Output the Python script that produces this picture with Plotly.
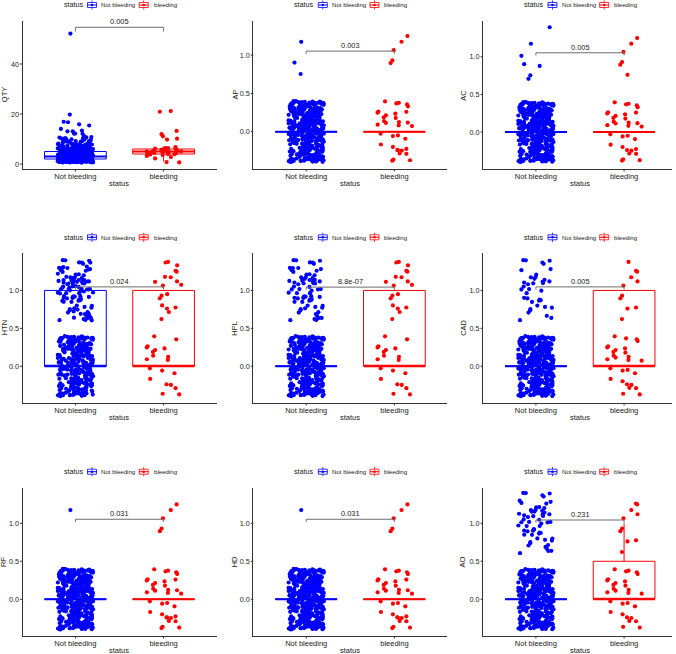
import numpy as np
import plotly.graph_objects as go

# ---------------- data ----------------
groups = ["Not bleeding", "bleeding"]
n_not_bleeding = 400
n_bleeding = 39

# QTY: integer values and how many patients have each value
qty_values = [1, 2, 3, 4, 5, 6, 7, 8, 9, 10, 11, 12, 13, 14, 15, 16, 17, 20, 21, 52]
qty_counts_not_bleeding = [70, 75, 65, 50, 41, 29, 22, 14, 9, 8, 4, 3, 3, 1, 1, 1, 2, 1, 0, 1]
qty_counts_bleeding = [2, 1, 2, 9, 10, 7, 1, 0, 0, 2, 1, 1, 1, 0, 0, 0, 0, 0, 2, 0]

# binary (0/1) variables: number of patients coded 1 in each group
binary_vars = ["AP", "AC", "HTN", "HPL", "CAD", "RF", "HD", "AO"]
ones_not_bleeding = [3, 7, 105, 72, 38, 1, 1, 58]
ones_bleeding = [5, 6, 19, 19, 11, 5, 5, 10]

panel_vars = ["QTY"] + binary_vars
p_values = ["0.005", "0.003", "0.005", "0.024", "8.8e-07", "0.005", "0.031", "0.031", "0.231"]

# ---------------- layout / style settings ----------------
W, H = 676, 654
col_x0 = [22.5, 253.3, 483.0]
col_x1 = [216.5, 447.0, 672.0]
row_top = [21.0, 253.3, 487.7]
row_bot = [169.0, 403.0, 636.0]
y_title_x = [4.2, 234.5, 462.7]
y_ranges = [[-2.0, 57.2], [-0.487, 1.445], [-0.49, 1.475],
            [-0.485, 1.49], [-0.485, 1.49], [-0.485, 1.49],
            [-0.483, 1.468], [-0.483, 1.468], [-0.483, 1.468]]
bracket_y = [54.7, 1.052, 1.053, 1.047, 1.044, 1.047, 1.053, 1.053, 1.043]
bracket_tip = [1.7, 0.035, 0.035, 0.035, 0.035, 0.035, 0.035, 0.035, 0.035]
colors = ["#0000FF", "#FF0000"]
TXT = "#1a1a1a"
AXC = "#333333"
FONT = "Liberation Sans, Arial, sans-serif"
BOX_W = 0.7
JIT_X, JIT_Y = 0.2, 0.4   # like position_jitter(width=0.2, height=0.4)
TICK_PX = 2.5


def px_x(px):
    return px / W


def px_y(py):
    return 1 - py / H


def jitter_unit(n, k):
    # deterministic display jitter (positions only, values unchanged)
    i = np.arange(n, dtype=float)
    v = np.sin(i * 12.9898 + k * 78.233 + 0.5) * 43758.5453
    return v - np.floor(v)


def group_values(var, g):
    if var == "QTY":
        counts = qty_counts_not_bleeding if g == 0 else qty_counts_bleeding
        return np.repeat(np.array(qty_values, dtype=float), counts)
    j = binary_vars.index(var)
    n = n_not_bleeding if g == 0 else n_bleeding
    ones = ones_not_bleeding[j] if g == 0 else ones_bleeding[j]
    return np.array([0.0] * (n - ones) + [1.0] * ones)


fig = go.Figure()
annotations = []
shapes = []

for p, var in enumerate(panel_vars):
    r, c = divmod(p, 3)
    ax = "" if p == 0 else str(p + 1)
    xref, yref = "x" + ax, "y" + ax
    x0, x1 = col_x0[c], col_x1[c]
    top, bot = row_top[r], row_bot[r]
    xr_end = 0.4 + (x1 - x0) / (194.0 / 2.2)

    for g in range(2):
        vals = group_values(var, g)
        q1, med, q3 = np.percentile(vals, [25, 50, 75])
        iqr = q3 - q1
        lo = vals[vals >= q1 - 1.5 * iqr].min()
        hi = vals[vals <= q3 + 1.5 * iqr].max()
        xpos = g + 1
        fig.add_trace(go.Box(
            x=[xpos], q1=[q1], median=[med], q3=[q3], lowerfence=[lo], upperfence=[hi],
            width=BOX_W, fillcolor="white", line=dict(color=colors[g], width=1),
            whiskerwidth=0, boxpoints=False, showlegend=False, hoverinfo="skip",
            xaxis=xref, yaxis=yref))
        fig.add_trace(go.Scatter(
            x=[xpos - BOX_W / 2, xpos + BOX_W / 2], y=[med, med], mode="lines",
            line=dict(color=colors[g], width=2), showlegend=False, hoverinfo="skip",
            xaxis=xref, yaxis=yref))
    for g in range(2):
        vals = group_values(var, g)
        n = len(vals)
        jx = (jitter_unit(n, 2 * g + 1) * 2 - 1) * JIT_X
        jy = (jitter_unit(n, 2 * g + 2) * 2 - 1) * JIT_Y
        fig.add_trace(go.Scatter(
            x=(g + 1) + jx, y=vals + jy, mode="markers",
            marker=dict(color=colors[g], size=4.2, line=dict(width=0)),
            name=groups[g], showlegend=False, xaxis=xref, yaxis=yref))

    b, t = bracket_y[p], bracket_tip[p]
    fig.add_trace(go.Scatter(
        x=[1, 1, 2, 2], y=[b - t, b, b, b - t], mode="lines",
        line=dict(color="#6e6e6e", width=1), showlegend=False, hoverinfo="skip",
        xaxis=xref, yaxis=yref))
    annotations.append(dict(x=1.5, y=b, xref=xref, yref=yref, text=p_values[p],
                            showarrow=False, yanchor="bottom", yshift=-1,
                            font=dict(family=FONT, size=7.4, color=TXT)))

    if var == "QTY":
        tv, tt = [0, 20, 40], ["0", "20", "40"]
    else:
        tv, tt = [0, 0.5, 1], ["0.0", "0.5", "1.0"]

    fig.layout["xaxis" + ax] = dict(
        domain=[px_x(x0), px_x(x1)], range=[0.4, xr_end], anchor=yref,
        tickvals=[1, 2], ticktext=groups, showline=True, linecolor=AXC, linewidth=1,
        ticks="", ticklabelstandoff=0, showgrid=False, zeroline=False,
        tickfont=dict(family=FONT, size=7.5, color=TXT), fixedrange=True)
    fig.layout["yaxis" + ax] = dict(
        domain=[px_y(bot), px_y(top)], range=y_ranges[p], anchor=xref,
        tickvals=tv, ticktext=tt, showline=True, linecolor=AXC, linewidth=1,
        ticks="", ticklabelstandoff=1, showgrid=False, zeroline=False,
        tickfont=dict(family=FONT, size=7.2, color=TXT), fixedrange=True)

    # tick marks (outside, short)
    for xv in [1, 2]:
        shapes.append(dict(type="line", xref=xref, yref=yref + " domain",
                           x0=xv, x1=xv, y0=0, y1=-TICK_PX / (bot - top),
                           line=dict(color=AXC, width=1)))
    for yv in tv:
        shapes.append(dict(type="line", xref=xref + " domain", yref=yref,
                           x0=0, x1=-TICK_PX / (x1 - x0), y0=yv, y1=yv,
                           line=dict(color=AXC, width=1)))

    cx = x0 + 97
    # axis titles
    annotations.append(dict(x=px_x(cx), y=px_y(bot + 14.5), xref="paper", yref="paper",
                            text="status", showarrow=False, xanchor="center", yanchor="middle",
                            borderpad=0,
                            font=dict(family=FONT, size=7.5, color=TXT)))
    annotations.append(dict(x=px_x(y_title_x[c]), y=px_y((top + bot) / 2), xref="paper", yref="paper",
                            text=var, showarrow=False, textangle=-90, xanchor="center",
                            yanchor="middle", borderpad=0,
                            font=dict(family=FONT, size=7.5, color=TXT)))

    # legend (status: Not bleeding / bleeding)
    ly = top - 16
    annotations.append(dict(x=px_x(cx - 58), y=px_y(ly), xref="paper", yref="paper",
                            text="status", showarrow=False, xanchor="left", yanchor="middle",
                            font=dict(family=FONT, size=7.2, color=TXT)))
    for g, (koff, toff) in enumerate([(-27.5, -20.5), (24.2, 32.0)]):
        kx = cx + koff
        col = colors[g]
        shapes.append(dict(type="rect", xref="paper", yref="paper",
                           x0=px_x(kx - 4.5), x1=px_x(kx + 4.5), y0=px_y(ly + 2.5), y1=px_y(ly - 2.5),
                           line=dict(color=col, width=0.8), fillcolor="white"))
        shapes.append(dict(type="line", xref="paper", yref="paper",
                           x0=px_x(kx - 4.5), x1=px_x(kx + 4.5), y0=px_y(ly), y1=px_y(ly),
                           line=dict(color=col, width=1)))
        shapes.append(dict(type="line", xref="paper", yref="paper",
                           x0=px_x(kx), x1=px_x(kx), y0=px_y(ly - 4.5), y1=px_y(ly - 2.5),
                           line=dict(color=col, width=0.8)))
        shapes.append(dict(type="line", xref="paper", yref="paper",
                           x0=px_x(kx), x1=px_x(kx), y0=px_y(ly + 2.5), y1=px_y(ly + 4.5),
                           line=dict(color=col, width=0.8)))
        shapes.append(dict(type="circle", xref="paper", yref="paper",
                           x0=px_x(kx - 1.3), x1=px_x(kx + 1.3), y0=px_y(ly + 1.3), y1=px_y(ly - 1.3),
                           line=dict(color=col, width=0), fillcolor=col))
        annotations.append(dict(x=px_x(cx + toff), y=px_y(ly), xref="paper", yref="paper",
                                text=groups[g], showarrow=False, xanchor="left", yanchor="middle",
                                font=dict(family=FONT, size=6.1, color=TXT)))

fig.update_layout(
    width=W, height=H, margin=dict(l=0, r=0, t=0, b=0),
    paper_bgcolor="white", plot_bgcolor="white", showlegend=False,
    annotations=annotations, shapes=shapes, boxmode="overlay",
    font=dict(family=FONT, color=TXT))

fig.write_html("out.html")
